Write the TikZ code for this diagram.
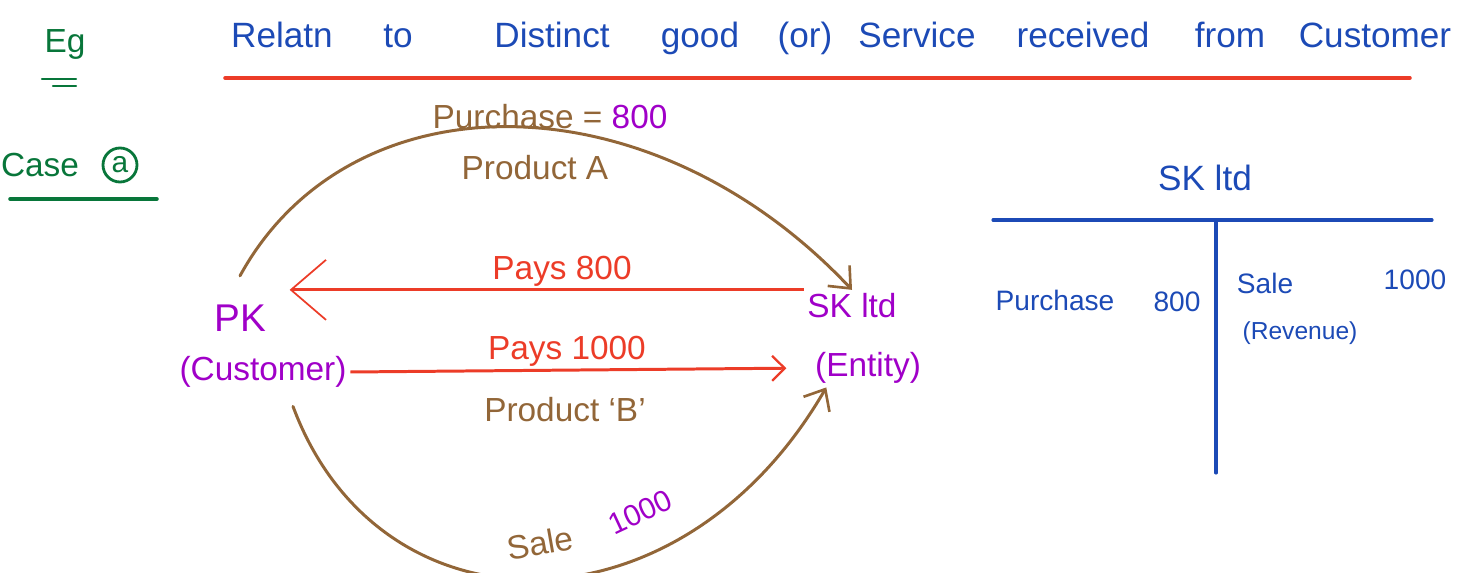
\documentclass[tikz,border=0pt]{standalone}
\usepackage{fontspec}
\setmainfont{Liberation Sans}
\usetikzlibrary{arrows.meta,positioning,calc}
\usepackage{xcolor}
\definecolor{inkblue}{RGB}{28,74,182}
\definecolor{inkred}{RGB}{236,60,40}
\definecolor{inkgreen}{RGB}{8,118,58}
\definecolor{inkbrown}{RGB}{146,102,56}
\definecolor{inkpurple}{RGB}{160,0,200}
\tikzset{
    hand/.style={
        text=#1,inner sep=2pt,font=\fontsize{19}{23}\selectfont
    },
    hand/.default=inkblue,
    inkrule/.style={
        draw=#1,line width=2pt,line cap=round
    },
    inkrule/.default=inkblue,
    flowarc/.style={
        draw=inkbrown,line width=1.7pt,line cap=round,
        -{Straight Barb[length=3.5mm,width=6mm,line width=1.5pt]}
    },
    pay/.style={
        draw=inkred,line width=1.7pt
    }
}

\begin{document}
\begin{tikzpicture}[x=0.02cm,y=-0.02cm]
\useasboundingbox (0,0) rectangle (1461,573);

\node[hand=inkgreen] (eg) at (65,44) {Eg};
\draw[inkrule=inkgreen,line width=1.3pt] (42,79) -- (76,79);
\draw[inkrule=inkgreen,line width=1.3pt] (53,86) -- (76,86);

\foreach \x/\w [count=\i] in {282/Relatn,398/to,552/Distinct,700/good,805/(or),
    917/Service,1083/received,1230/from,1375/Customer}
    \node[hand,anchor=base,font=\fontsize{20}{24}\selectfont] (title\i) at (\x,48) {\w};
\draw[inkrule=inkred] (225,78) -- (1410,78);

\node[hand=inkgreen] (case) at (40,165) {Case};
\node[
circle,draw=inkgreen,line width=1.6pt,minimum size=0.68cm,inner sep=0pt,
text=inkgreen,font=\fontsize{17}{20}\selectfont
] (casea) at (120,165) {a};
\draw[inkrule=inkgreen] (10,199) -- (157,199);

\node[hand=inkbrown] (purchase) at (550,117)
{Purchase = \textcolor{inkpurple}{800}};
\node[hand=inkbrown] (prodA) at (535,168) {Product A};

\node[hand=inkpurple,font=\fontsize{22}{26}\selectfont] (pkname) at (240,318) {PK};
\node[hand=inkpurple] (pkrole) at (263,372) {(Customer)};
\node[hand=inkpurple] (skname) at (852,306) {SK ltd};
\node[hand=inkpurple] (skrole) at (868,368) {(Entity)};

\draw[flowarc] ([yshift=0.5cm]pkname.north)
    .. controls (350,75) and (650,75) .. (skname.north);

\draw[pay,-{Straight Barb[length=7mm,width=12mm,line width=1pt]}]
    (skname.north west) -- ($(skname.north west -| pkname.east)+(20,0)$)
    node[pos=0.47,above,inner sep=1pt,text=inkred,font=\fontsize{19}{23}\selectfont] {Pays 800};

\draw[pay,-{Straight Barb[length=2.5mm,width=5mm,line width=1.3pt]},shorten >=0.5cm]
    (pkrole.east) -- (skrole.west)
    node[pos=0.47,above,inner sep=1pt,text=inkred,font=\fontsize{19}{23}\selectfont] {Pays 1000};
\node[hand=inkbrown] (prodB) at (565,410) {Product `B'};

\draw[flowarc] ([xshift=0.6cm,yshift=-0.3cm]pkrole.south)
    .. controls (380,640) and (680,640) .. ([xshift=0.3cm]skrole.south west);
\node[hand=inkbrown,rotate=10,inner sep=0pt] (sale) at (540,543) {Sale};
\node[hand=inkpurple,rotate=25,inner sep=0pt,font=\fontsize{17}{20}\selectfont] (saleval) at (640,512) {1000};

\node[hand,font=\fontsize{20}{24}\selectfont] (tname) at (1205,178) {SK ltd};
\draw[inkrule,line width=1.8pt] (993,220) -- (1432,220);
\draw[inkrule,line width=1.8pt] (1216,220) -- (1216,473);

\node[hand,font=\fontsize{16}{19}\selectfont] (tpur) at (1055,300) {Purchase};
\node[hand,font=\fontsize{16}{19}\selectfont] (tpurval) at (1177,302) {800};
\node[hand,font=\fontsize{16}{19}\selectfont] (tsale) at (1265,283) {Sale};
\node[hand,font=\fontsize{16}{19}\selectfont] (tsaleval) at (1415,280) {1000};
\node[hand,font=\fontsize{14}{17}\selectfont] (trev) at (1300,333) {(Revenue)};

\end{tikzpicture}
\end{document}
